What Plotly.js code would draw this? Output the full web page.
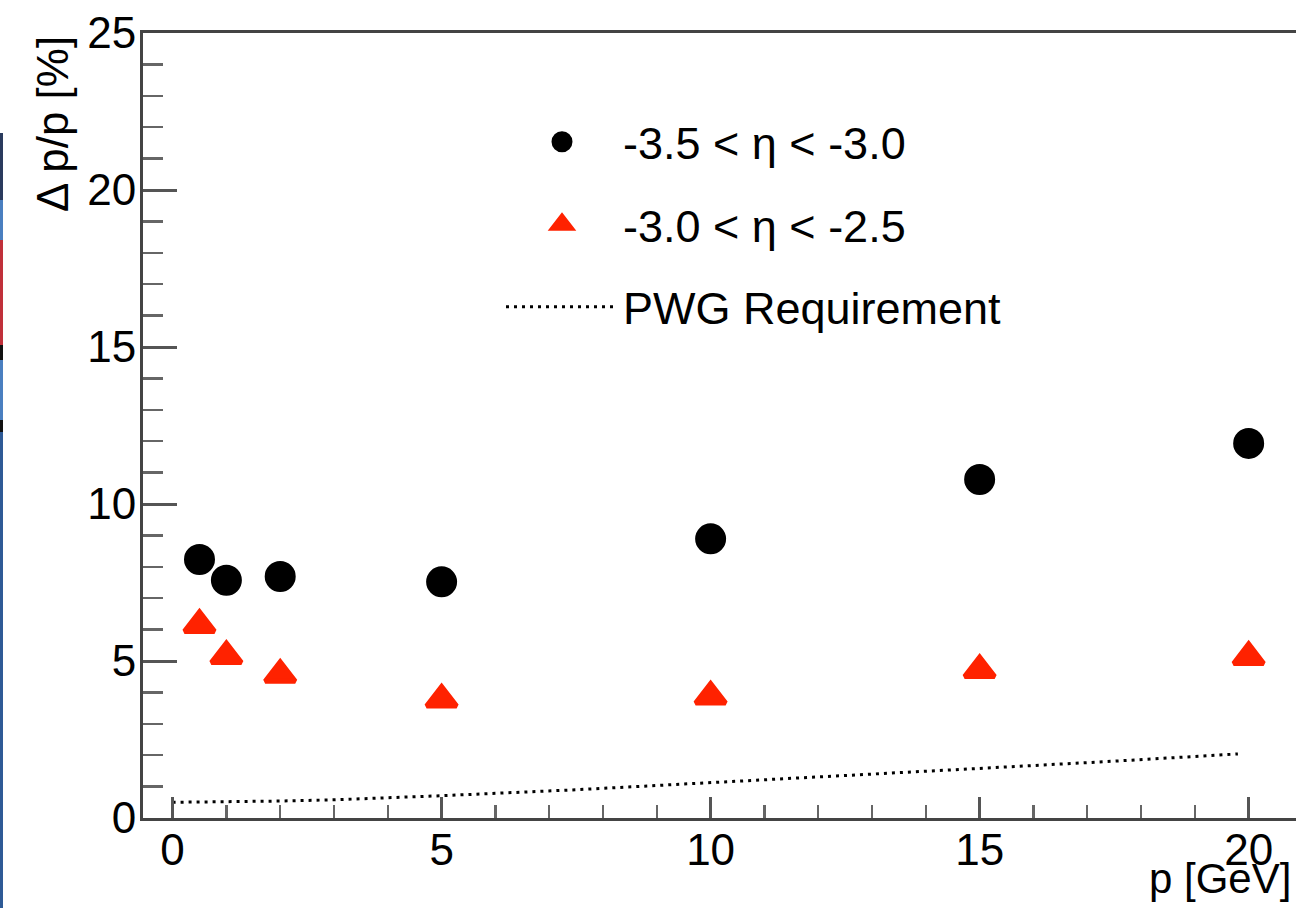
<!DOCTYPE html>
<html>
<head>
<meta charset="utf-8">
<script src="https://cdn.plot.ly/plotly-3.0.1.min.js"></script>
<style>
  html, body { margin: 0; padding: 0; background: #ffffff; }
  #chart { width: 1296px; height: 908px; }
</style>
</head>
<body>
<div id="chart"></div>
<script>
// Momentum points [GeV]
const momentum = [0.5, 1, 2, 5, 10, 15, 20];

// Relative momentum resolution [%] for each pseudorapidity bin
const resEta35to30 = [8.23, 7.57, 7.69, 7.52, 8.89, 10.78, 11.93];
const resEta30to25 = [6.15, 5.16, 4.56, 3.77, 3.87, 4.71, 5.13];

// Physics working group requirement curve
const pwgMomentum = [0, 1, 2, 3, 4, 5, 7.5, 10, 12.5, 15, 17.5, 19.8];
const pwgResolution = [0.50, 0.51, 0.54, 0.58, 0.64, 0.71, 0.90, 1.12, 1.35, 1.58, 1.81, 2.04];

// Labels
const seriesNames = ['-3.5 < \u03b7 < -3.0', '-3.0 < \u03b7 < -2.5', 'PWG Requirement'];
const xTitle = 'p [GeV]';
const yTitle = '\u0394 p/p [%]';

const FONT = 'Liberation Sans, Arial, Helvetica, sans-serif';

const traces = [
  {
    x: momentum, y: resEta35to30, name: seriesNames[0],
    type: 'scatter', mode: 'markers', legendgroup: 'a',
    marker: { symbol: 'circle', size: 26, color: '#000000', line: { color: '#000000', width: 5 } },
    cliponaxis: false
  },
  {
    x: momentum, y: resEta30to25, name: seriesNames[1],
    type: 'scatter', mode: 'markers', legendgroup: 'b',
    marker: { symbol: 'triangle-up', size: 26, color: '#ff2200', line: { color: '#ff2200', width: 5 } },
    cliponaxis: false
  },
  {
    x: pwgMomentum, y: pwgResolution, name: seriesNames[2],
    type: 'scatter', mode: 'lines', legendgroup: 'c',
    line: { color: '#000000', width: 3, dash: '3px,5px' }
  }
];

// Thin coloured strip along the left edge
const strip = [
  [133, 200, '#2a3b5e'],
  [200, 240, '#4a7fc0'],
  [240, 345, '#c0303a'],
  [345, 360, '#111111'],
  [360, 420, '#4a7fc0'],
  [420, 432, '#111111'],
  [432, 908, '#2e5a96']
];
const plotL = 143, plotW = 1153, plotB = 818, plotH = 785;
const px2x = p => (p - plotL) / plotW;
const px2y = p => (plotB - p) / plotH;
const shapes = strip.map(s => ({
  type: 'rect', xref: 'paper', yref: 'paper',
  x0: px2x(0), x1: px2x(3), y0: px2y(s[1]), y1: px2y(s[0]),
  fillcolor: s[2], line: { width: 0 }, layer: 'above'
}));

const layout = {
  width: 1296, height: 908,
  margin: { l: 143, r: 0, t: 33, b: 90, pad: 0 },
  paper_bgcolor: '#ffffff', plot_bgcolor: '#ffffff',
  font: { family: FONT, color: '#000000' },
  showlegend: true,
  legend: {
    x: px2x(501), y: px2y(106), xanchor: 'left', yanchor: 'top',
    font: { family: FONT, size: 45, color: '#000000' },
    bgcolor: 'rgba(0,0,0,0)', borderwidth: 0,
    traceorder: 'grouped', tracegroupgap: 21, itemwidth: 112
  },
  xaxis: {
    range: [-0.55, 20.88], tick0: 0, dtick: 5,
    ticks: 'inside', ticklen: 21, tickwidth: 3, tickcolor: '#555555',
    showline: true, linewidth: 3, linecolor: '#444444', mirror: true,
    showgrid: false, zeroline: false,
    tickfont: { family: FONT, size: 44, color: '#000000' },
    ticklabelstandoff: -9,
    minor: { tick0: 0, dtick: 1, ticks: 'inside', ticklen: 13, tickwidth: 2.5, tickcolor: '#666666', showgrid: false }
  },
  yaxis: {
    range: [0, 25], tick0: 0, dtick: 5,
    ticks: 'inside', ticklen: 34, tickwidth: 3, tickcolor: '#555555',
    showline: true, linewidth: 3, linecolor: '#444444',
    showgrid: false, zeroline: false,
    tickfont: { family: FONT, size: 44, color: '#000000' },
    ticklabelstandoff: -5,
    minor: { tick0: 0, dtick: 1, ticks: 'inside', ticklen: 20, tickwidth: 2.5, tickcolor: '#666666', showgrid: false }
  },
  annotations: [
    {
      text: yTitle, xref: 'paper', yref: 'paper',
      x: px2x(52), y: px2y(34), xanchor: 'center', yanchor: 'top',
      textangle: -90, showarrow: false,
      font: { family: FONT, size: 44, color: '#000000' }
    },
    {
      text: xTitle, xref: 'paper', yref: 'paper',
      x: px2x(1293), y: px2y(853), xanchor: 'right', yanchor: 'top',
      showarrow: false,
      font: { family: FONT, size: 42, color: '#000000' }
    }
  ],
  shapes: shapes
};

Plotly.newPlot('chart', traces, layout, { displayModeBar: false, staticPlot: true });
</script>
</body>
</html>
